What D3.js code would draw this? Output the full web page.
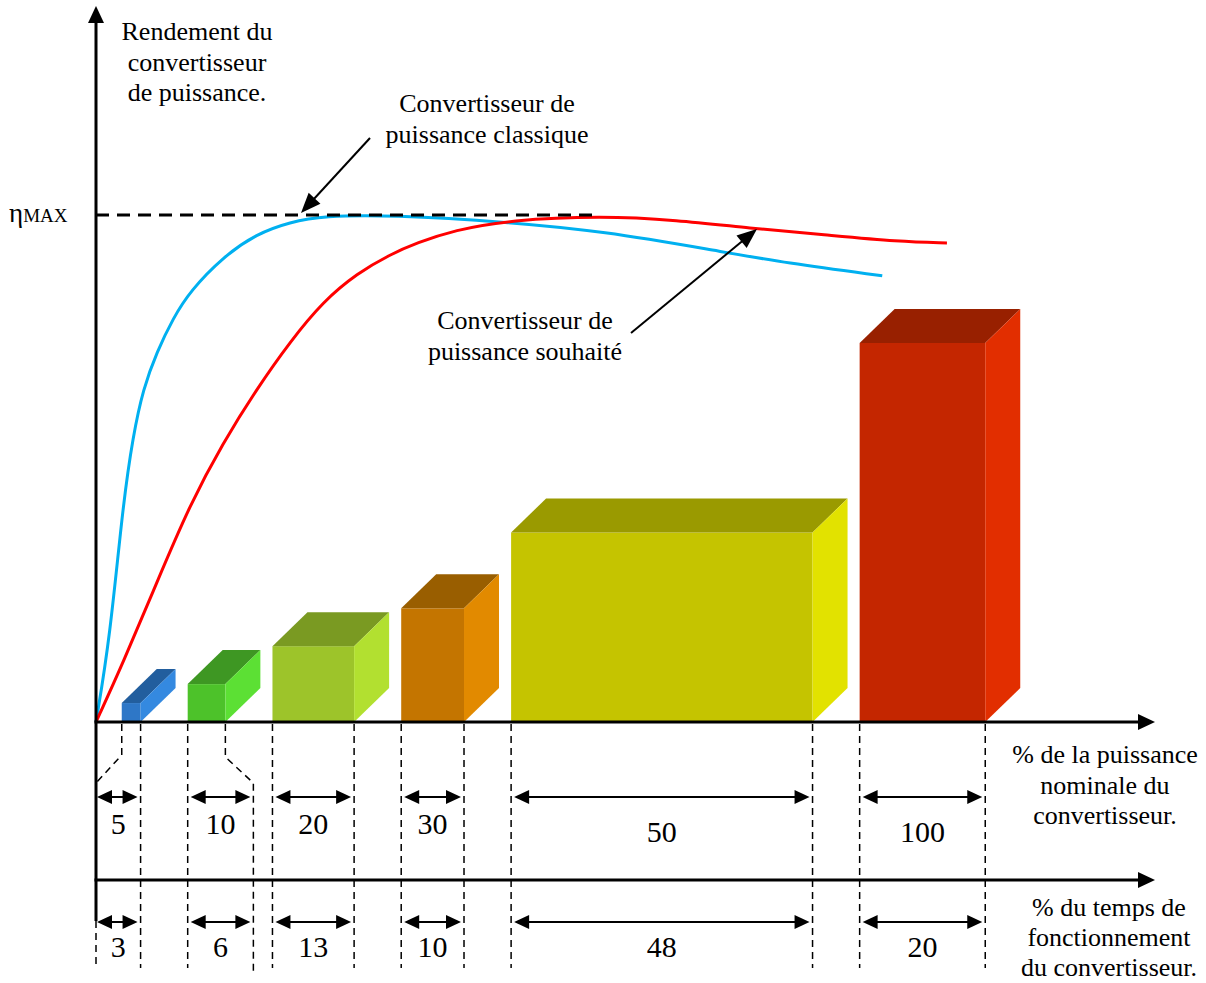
<!DOCTYPE html>
<html>
<head>
<meta charset="utf-8">
<script src="https://cdnjs.cloudflare.com/ajax/libs/d3/7.8.5/d3.min.js"></script>
<style>
  body { margin: 0; background: #fff; }
  text { font-family: "Liberation Serif", "Times New Roman", serif; fill: #000; }
</style>
</head>
<body>
<div id="chart"></div>
<script>
////////////////////////////////////////////////////////////
//////////////////////// Data //////////////////////////////
////////////////////////////////////////////////////////////

// % de la puissance nominale (bar height) and % du temps (bar width)
var powerPct = [5, 10, 20, 30, 50, 100];
var timePct  = [3, 6, 13, 10, 48, 20];

// efficiency curves, x in time-% units along the axis, y relative to eta max
var classicX   = [0, 2.2, 4.3, 5.9, 7.5, 9.7, 12.3, 15.0, 20.2, 25.6, 30.9, 36.2, 46.8, 65.9, 80.6, 98.2, 110.0, 125.2];
var classicEff = [0, 0.164, 0.43, 0.564, 0.657, 0.73, 0.797, 0.85, 0.917, 0.963, 0.986, 0.998, 1.0, 0.986, 0.968, 0.931, 0.905, 0.88];
var targetX    = [0, 4.3, 9.7, 15.0, 20.2, 25.6, 30.9, 36.2, 41.6, 46.8, 51.1, 57.0, 65.9, 80.6, 92.4, 104.1, 115.9, 127.9, 135.5];
var targetEff  = [0, 0.116, 0.276, 0.43, 0.55, 0.657, 0.75, 0.83, 0.885, 0.922, 0.945, 0.97, 0.99, 0.998, 0.99, 0.974, 0.961, 0.947, 0.945];

// face colours of each box: front, top, side
var frontColors = ["#2e77c7", "#4dc22a", "#9dc42a", "#c47500", "#c5c400", "#c42600"];
var topColors   = ["#225e9e", "#3e9723", "#7a9a22", "#995e00", "#9a9a00", "#982000"];
var sideColors  = ["#3489e0", "#5ce034", "#b2e030", "#e28a00", "#e2e200", "#e22e00"];

////////////////////////////////////////////////////////////
//////////////////////// Set-Up ////////////////////////////
////////////////////////////////////////////////////////////

var W = 1206, H = 983;
var X0 = 96, AXIS_Y = 722, AXIS2_Y = 880, X_END = 1155;
var depthX = 35, depthY = 34;
var startOffset = 4.1, gap = 7.5;

var xs = d3.scaleLinear().domain([0, 100]).range([X0, X0 + 628]);
var yBar = d3.scaleLinear().domain([0, 100]).range([AXIS_Y, 343]);
var yEff = d3.scaleLinear().domain([0, 1]).range([AXIS_Y, 215]);

var svg = d3.select("#chart").append("svg")
  .attr("width", W)
  .attr("height", H);

// bar layout
var bars = [];
var pos = startOffset;
for (var i = 0; i < powerPct.length; i++) {
  bars.push({ i: i, power: powerPct[i], time: timePct[i], u0: pos, u1: pos + timePct[i] });
  pos += timePct[i] + gap;
}

function head(x1, y1, x2, y2, len, hw) {
  var a = Math.atan2(y2 - y1, x2 - x1);
  var bx = x2 - len * Math.cos(a), by = y2 - len * Math.sin(a);
  var px = -Math.sin(a) * hw, py = Math.cos(a) * hw;
  return [[x2, y2], [bx + px, by + py], [bx - px, by - py]];
}

////////////////////////////////////////////////////////////
//////////////////////// Curves ////////////////////////////
////////////////////////////////////////////////////////////

var line = d3.line()
  .x(function(d) { return xs(d[0]); })
  .y(function(d) { return yEff(d[1]); })
  .curve(d3.curveBasis);

svg.append("path")
  .attr("d", line(d3.zip(classicX, classicEff)))
  .attr("fill", "none")
  .attr("stroke", "#00b0f0")
  .attr("stroke-width", 3);

svg.append("path")
  .attr("d", line(d3.zip(targetX, targetEff)))
  .attr("fill", "none")
  .attr("stroke", "#ff0000")
  .attr("stroke-width", 3);

// eta max line
svg.append("line")
  .attr("x1", X0).attr("x2", 598)
  .attr("y1", yEff(1)).attr("y2", yEff(1))
  .attr("stroke", "#000")
  .attr("stroke-width", 3)
  .attr("stroke-dasharray", "13,8");

var eta = svg.append("text").attr("x", 9).attr("y", yEff(1) + 7);
eta.append("tspan").style("font-size", "27px").text("η");
eta.append("tspan").style("font-size", "19px").text("MAX");

////////////////////////////////////////////////////////////
//////////////////////// Boxes /////////////////////////////
////////////////////////////////////////////////////////////

var boxes = svg.selectAll("g.box")
  .data(bars)
  .enter().append("g")
  .attr("class", "box");

boxes.append("rect")
  .attr("x", function(d) { return xs(d.u0); })
  .attr("y", function(d) { return yBar(d.power); })
  .attr("width", function(d) { return xs(d.u1) - xs(d.u0); })
  .attr("height", function(d) { return AXIS_Y - yBar(d.power); })
  .attr("fill", function(d) { return frontColors[d.i]; });

boxes.append("polygon")
  .attr("points", function(d) {
    var l = xs(d.u0), r = xs(d.u1), t = yBar(d.power);
    return [[l, t], [r, t], [r + depthX, t - depthY], [l + depthX, t - depthY]].join(" ");
  })
  .attr("fill", function(d) { return topColors[d.i]; });

boxes.append("polygon")
  .attr("points", function(d) {
    var r = xs(d.u1), t = yBar(d.power);
    return [[r, t], [r + depthX, t - depthY], [r + depthX, AXIS_Y - depthY], [r, AXIS_Y]].join(" ");
  })
  .attr("fill", function(d) { return sideColors[d.i]; });

////////////////////////////////////////////////////////////
//////////////////////// Guides ////////////////////////////
////////////////////////////////////////////////////////////

// guide lines: the two smallest boxes get bent guides to make room for labels
bars.forEach(function(d) {
  d.g0 = xs(d.u0);
  d.g1 = xs(d.u1);
  d.path0 = "M" + d.g0 + "," + (AXIS_Y + 2) + "V968";
  d.path1 = "M" + d.g1 + "," + (AXIS_Y + 2) + "V968";
});
bars[0].path0 = "M" + bars[0].g0 + "," + (AXIS_Y + 2) + "V755L" + X0 + ",783";
bars[0].g0 = X0;
bars[1].path1 = "M" + bars[1].g1 + "," + (AXIS_Y + 2) + "V757L" + (bars[1].g1 + 28) + ",783V972";
bars[1].g1 = bars[1].g1 + 28;

var guides = svg.append("g")
  .attr("fill", "none")
  .attr("stroke", "#000")
  .attr("stroke-width", 1.5)
  .attr("stroke-dasharray", "7,5");
bars.forEach(function(d) {
  guides.append("path").attr("d", d.path0);
  guides.append("path").attr("d", d.path1);
});
guides.append("path").attr("d", "M" + X0 + "," + 921 + "V968");

// dimension arrows
function dimArrow(x1, x2, y) {
  svg.append("line")
    .attr("x1", x1 + 8).attr("x2", x2 - 8)
    .attr("y1", y).attr("y2", y)
    .attr("stroke", "#000").attr("stroke-width", 2);
  svg.append("polygon").attr("points", head(x2 - 10, y, x1, y, 15, 7).join(" "));
  svg.append("polygon").attr("points", head(x1 + 10, y, x2, y, 15, 7).join(" "));
}

bars.forEach(function(d) {
  var a = d.g0 + (d.i === 0 ? 1 : 3), b = d.g1 - 3;
  dimArrow(a, b, 797);
  dimArrow(a, b, 922);
  var cx = (d.g0 + d.g1) / 2;
  svg.append("text")
    .attr("x", cx).attr("y", d.g1 - d.g0 > 100 ? 842 : 834)
    .attr("text-anchor", "middle")
    .style("font-size", "30px")
    .text(d.power);
  svg.append("text")
    .attr("x", cx).attr("y", 957)
    .attr("text-anchor", "middle")
    .style("font-size", "30px")
    .text(d.time);
});

////////////////////////////////////////////////////////////
//////////////////////// Axes //////////////////////////////
////////////////////////////////////////////////////////////

svg.append("line")
  .attr("x1", X0).attr("x2", X0).attr("y1", 921).attr("y2", 20)
  .attr("stroke", "#000").attr("stroke-width", 3);
svg.append("polygon").attr("points", head(X0, 40, X0, 6, 17, 8).join(" "));

[AXIS_Y, AXIS2_Y].forEach(function(y) {
  svg.append("line")
    .attr("x1", X0 - 1.5).attr("x2", X_END - 10).attr("y1", y).attr("y2", y)
    .attr("stroke", "#000").attr("stroke-width", 3);
  svg.append("polygon").attr("points", head(X_END - 30, y, X_END, y, 17, 8).join(" "));
});

////////////////////////////////////////////////////////////
//////////////////////// Labels ////////////////////////////
////////////////////////////////////////////////////////////

function block(x, y, lines, step) {
  var t = svg.append("text")
    .attr("text-anchor", "middle")
    .style("font-size", "26px");
  lines.forEach(function(s, k) {
    t.append("tspan").attr("x", x).attr("y", y + k * (step || 30.5)).text(s);
  });
}

block(197, 40, ["Rendement du", "convertisseur", "de puissance."]);
block(487, 112, ["Convertisseur de", "puissance classique"]);
block(525, 329, ["Convertisseur de", "puissance souhaité"]);
block(1105, 763, ["% de la puissance", "nominale du", "convertisseur."]);
block(1109, 916, ["% du temps de", "fonctionnement", "du convertisseur."], 30);

// pointer arrows
function pointer(x1, y1, x2, y2) {
  var h = head(x1, y1, x2, y2, 20, 8);
  var a = Math.atan2(y2 - y1, x2 - x1);
  svg.append("line")
    .attr("x1", x1).attr("y1", y1)
    .attr("x2", x2 - 15 * Math.cos(a)).attr("y2", y2 - 15 * Math.sin(a))
    .attr("stroke", "#000").attr("stroke-width", 2);
  svg.append("polygon").attr("points", h.join(" "));
}
pointer(370, 138, 301, 213);
pointer(631, 333, 757, 229);
</script>
</body>
</html>
